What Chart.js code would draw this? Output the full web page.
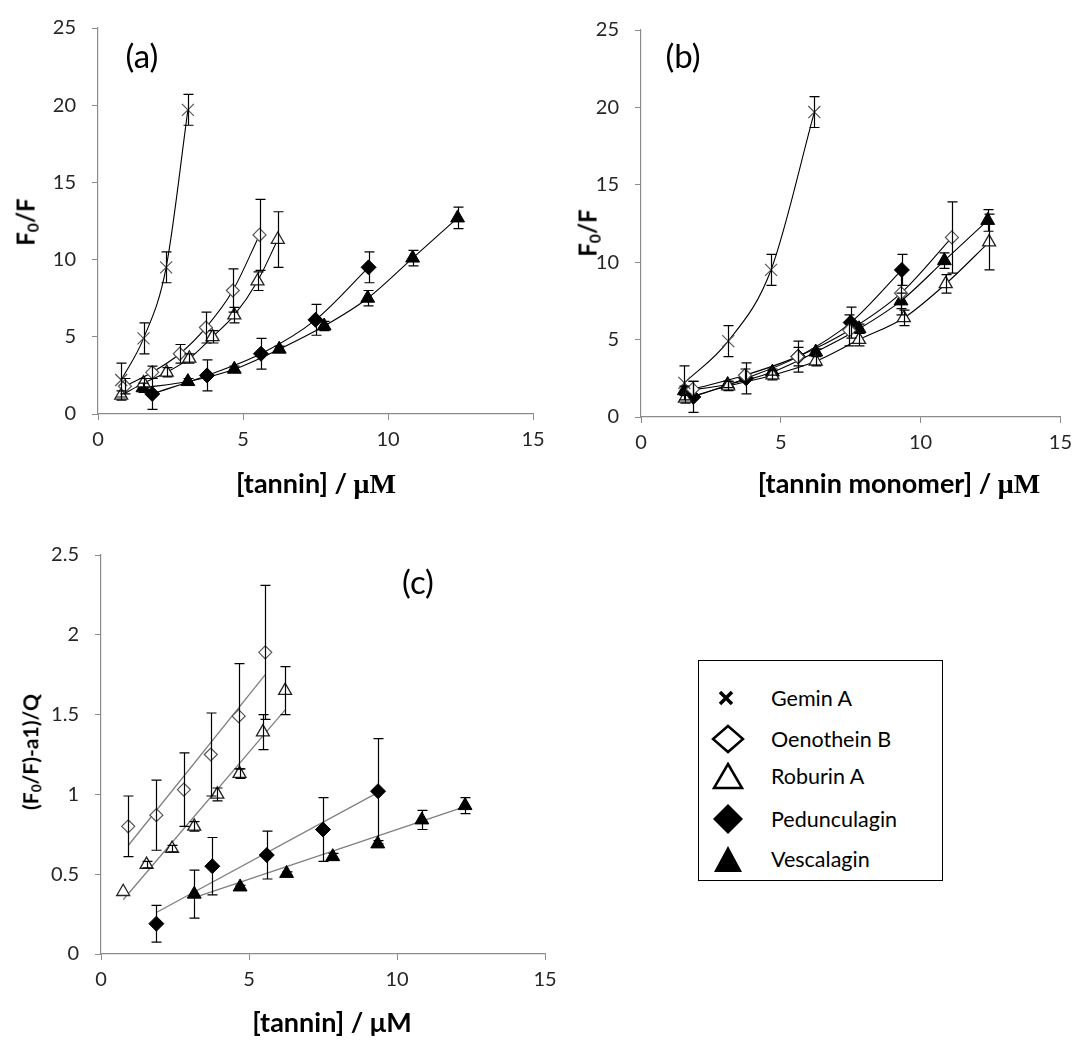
<!DOCTYPE html>
<html lang="en">
<head>
<meta charset="UTF-8">
<title>Tannin quenching</title>
<script src="https://cdn.jsdelivr.net/npm/chart.js@4.4.1/dist/chart.umd.min.js"></script>
<style>
  * { margin: 0; padding: 0; }
  body { width: 1080px; height: 1040px; background: #fff; position: relative; overflow: hidden;
         font-family: Lato, "Open Sans", sans-serif; }
  .box { position: absolute; }
  .lbl { position: absolute; white-space: nowrap; color: #000; }
  .ytitle { font-weight: bold; font-size: 24px; transform: translate(-50%, -50%) rotate(-90deg); }
  .xtitle { font-weight: bold; font-size: 27px; transform: translate(-50%, -50%); }
  .mu { font-family: "Liberation Serif", serif; font-weight: bold; font-size: 28px; }
  .panel { font-size: 33px; transform: translate(-50%, -50%); }
  sub { font-size: 65%; vertical-align: -0.25em; }
  #legend { position: absolute; left: 698px; top: 660px; width: 243px; height: 219px; border: 1.5px solid #000; }
  .leg { position: absolute; left: 72px; font-size: 21.5px; transform: translateY(-50%); white-space: nowrap; }
  .mk { position: absolute; left: 12px; transform: translateY(-50%); }
</style>
</head>
<body>

<div class="box" style="left:0; top:0; width:560px; height:470px"><canvas id="chartA"></canvas></div>
<div class="box" style="left:560px; top:0; width:520px; height:470px"><canvas id="chartB"></canvas></div>
<div class="box" style="left:0; top:520px; width:600px; height:520px"><canvas id="chartC"></canvas></div>

<div class="lbl panel" style="left:142px; top:55px">(a)</div>
<div class="lbl panel" style="left:683px; top:55px">(b)</div>
<div class="lbl panel" style="left:418px; top:581px">(c)</div>

<div class="lbl ytitle" style="left:26px; top:222px">F<sub>0</sub>/F</div>
<div class="lbl ytitle" style="left:588px; top:233px">F<sub>0</sub>/F</div>
<div class="lbl ytitle" style="left:31px; top:752px; font-size:21px">(F<sub>0</sub>/F)-a1)/Q</div>

<div class="lbl xtitle" style="left:316px; top:483px">[tannin] / <span class="mu">μM</span></div>
<div class="lbl xtitle" style="left:899px; top:483px">[tannin monomer] / <span class="mu">μM</span></div>
<div class="lbl xtitle" style="left:332px; top:1021px">[tannin] / μM</div>

<div id="legend">
  <svg class="mk" style="top:37px" width="30" height="20"><path d="M9 4 L21 16 M21 4 L9 16" stroke="#000" stroke-width="3.5"/></svg>
  <div class="leg" style="top:37px">Gemin A</div>
  <svg class="mk" style="top:78px" width="34" height="30"><path d="M17 2 L32 15 L17 28 L2 15 Z" fill="#fff" stroke="#000" stroke-width="2.5"/></svg>
  <div class="leg" style="top:78px">Oenothein B</div>
  <svg class="mk" style="top:115px" width="34" height="30"><path d="M17 3 L31 27 L3 27 Z" fill="#fff" stroke="#000" stroke-width="2.5"/></svg>
  <div class="leg" style="top:115px">Roburin A</div>
  <svg class="mk" style="top:158px" width="34" height="32"><path d="M17 1 L32 16 L17 31 L2 16 Z" fill="#000"/></svg>
  <div class="leg" style="top:158px">Pedunculagin</div>
  <svg class="mk" style="top:198px" width="34" height="30"><path d="M17 2 L31 28 L3 28 Z" fill="#000"/></svg>
  <div class="leg" style="top:198px">Vescalagin</div>
</div>

<script>
// ---- panel (a): x = [tannin] / uM
var geminX = [0.80, 1.57, 2.35, 3.10];
var geminY = [2.2, 4.9, 9.5, 19.7];
var geminE = [1.1, 1.0, 1.0, 1.0];

var oenoX = [0.93, 1.87, 2.82, 3.72, 4.65, 5.57];
var oenoY = [1.8, 2.7, 3.9, 5.6, 8.0, 11.6];
var oenoE = [0.5, 0.4, 0.6, 1.0, 1.4, 2.3];

var robX = [0.80, 1.57, 2.37, 3.15, 3.95, 4.70, 5.50, 6.20];
var robY = [1.2, 2.0, 2.7, 3.6, 5.0, 6.4, 8.6, 11.3];
var robE = [0.3, 0.3, 0.3, 0.3, 0.4, 0.5, 0.6, 1.8];

var pedX = [1.87, 3.76, 5.62, 7.50, 9.33];
var pedY = [1.3, 2.5, 3.9, 6.1, 9.5];
var pedE = [1.0, 1.0, 1.0, 1.0, 1.0];

var vesX = [1.55, 3.10, 4.70, 6.25, 7.80, 9.30, 10.85, 12.40];
var vesY = [1.7, 2.1, 2.9, 4.2, 5.7, 7.5, 10.1, 12.7];
var vesE = [0.3, 0.2, 0.2, 0.2, 0.3, 0.5, 0.5, 0.7];

// ---- panel (b): x = [tannin monomer] / uM (dimers move right)
var geminXb = [1.55, 3.12, 4.65, 6.20];
var oenoXb = [1.85, 3.72, 5.60, 7.45, 9.30, 11.12];
var robXb = [1.57, 3.12, 4.70, 6.25, 7.80, 9.40, 10.90, 12.45];

// ---- panel (c): ((F0/F)-a1)/Q against [tannin]
var oenoCX = [0.92, 1.87, 2.80, 3.71, 4.65, 5.55];
var oenoCY = [0.80, 0.87, 1.03, 1.25, 1.49, 1.89];
var oenoCE = [0.19, 0.22, 0.23, 0.26, 0.33, 0.42];
var oenoFitX = [0.92, 5.55], oenoFitY = [0.68, 1.75];

var robCX = [0.75, 1.54, 2.40, 3.15, 3.93, 4.68, 5.47, 6.22];
var robCY = [0.39, 0.56, 0.66, 0.80, 1.00, 1.13, 1.39, 1.65];
var robCE = [0, 0.02, 0.02, 0.03, 0.04, 0.03, 0.11, 0.15];
var robFitX = [0.75, 6.22], robFitY = [0.34, 1.53];

var pedCX = [1.87, 3.76, 5.60, 7.50, 9.36];
var pedCY = [0.19, 0.55, 0.62, 0.78, 1.02];
var pedCE = [0.115, 0.18, 0.15, 0.20, 0.33];
var pedFitX = [1.87, 9.33], pedFitY = [0.26, 1.01];

var vesCX = [3.15, 4.70, 6.27, 7.83, 9.35, 10.84, 12.30];
var vesCY = [0.375, 0.42, 0.505, 0.61, 0.69, 0.84, 0.93];
var vesCE = [0.15, 0.01, 0.01, 0.02, 0.02, 0.06, 0.05];
var vesFitX = [3.10, 12.40], vesFitY = [0.35, 0.93];

var xTicks = [0, 5, 10, 15];

function pts(xs, ys) {
    var out = [];
    for (var i = 0; i < xs.length; i++) out.push({x: xs[i], y: ys[i]});
    return out;
}

// marker looks, shared by all three panels
var looks = {
    gemin: {pointStyle: 'crossRot', pointRadius: 8.5, pointBorderColor: '#555', pointBackgroundColor: '#fff', pointBorderWidth: 1.2},
    oeno:  {pointStyle: 'rectRot', pointRadius: 6.5, pointBorderColor: '#555', pointBackgroundColor: '#fff', pointBorderWidth: 1.2},
    rob:   {pointStyle: 'triangle', pointRadius: 7.5, pointBorderColor: '#222', pointBackgroundColor: '#fff', pointBorderWidth: 1.3},
    ped:   {pointStyle: 'rectRot', pointRadius: 7.5, pointBorderColor: '#000', pointBackgroundColor: '#000', pointBorderWidth: 1},
    ves:   {pointStyle: 'triangle', pointRadius: 8, pointBorderColor: '#000', pointBackgroundColor: '#000', pointBorderWidth: 1}
};

function series(label, xs, ys, errs, look, curve) {
    var ds = {label: label, data: pts(xs, ys), err: errs, showLine: curve,
              borderColor: '#000', borderWidth: 1.1, tension: 0.4, cubicInterpolationMode: 'monotone'};
    for (var k in look) ds[k] = look[k];
    return ds;
}

function fitLine(xs, ys) {
    return {label: 'fit', data: pts(xs, ys), showLine: true, pointRadius: 0,
            borderColor: '#7f7f7f', borderWidth: 1.3, order: 5};
}

var errorBars = {
    id: 'errorBars',
    afterDatasetsDraw: function (chart) {
        var ctx = chart.ctx, xs = chart.scales.x, ys = chart.scales.y;
        ctx.save();
        ctx.strokeStyle = '#000';
        ctx.lineWidth = 1.2;
        chart.data.datasets.forEach(function (ds) {
            if (!ds.err) return;
            ds.data.forEach(function (p, i) {
                var e = ds.err[i];
                if (!e) return;
                var x = Math.round(xs.getPixelForValue(p.x)) + 0.5;
                var y1 = ys.getPixelForValue(p.y + e), y2 = ys.getPixelForValue(p.y - e);
                ctx.beginPath();
                ctx.moveTo(x, y1); ctx.lineTo(x, y2);
                ctx.moveTo(x - 5, y1); ctx.lineTo(x + 5, y1);
                ctx.moveTo(x - 5, y2); ctx.lineTo(x + 5, y2);
                ctx.stroke();
            });
        });
        ctx.restore();
    }
};

function makeChart(id, datasets, yMax, yStep, pad) {
    var axisGrey = '#8c8c8c';
    new Chart(document.getElementById(id), {
        type: 'scatter',
        data: {datasets: datasets},
        plugins: [errorBars],
        options: {
            responsive: true,
            maintainAspectRatio: false,
            animation: false,
            layout: {padding: pad},
            plugins: {legend: {display: false}, tooltip: {enabled: false}},
            scales: {
                x: {
                    type: 'linear', min: 0, max: 15,
                    afterBuildTicks: function (s) { s.ticks = xTicks.map(function (v) { return {value: v}; }); },
                    afterFit: function (s) { s.height = 40; },
                    grid: {display: true, drawOnChartArea: false, drawTicks: true, tickLength: 6, color: axisGrey},
                    border: {color: axisGrey, width: 1.2},
                    ticks: {color: '#262626', font: {family: 'Lato', size: 20}, padding: 8, maxRotation: 0}
                },
                y: {
                    type: 'linear', min: 0, max: yMax,
                    afterFit: function (s) { s.width = 60; },
                    grid: {display: true, drawOnChartArea: false, drawTicks: true, tickLength: 6, color: axisGrey},
                    border: {color: axisGrey, width: 1.2},
                    ticks: {stepSize: yStep, color: '#262626', font: {family: 'Lato', size: 20}, padding: 16,
                            callback: function (v) { return String(+v.toFixed(1)); }}
                }
            }
        }
    });
}

makeChart('chartA', [
    series('Gemin A', geminX, geminY, geminE, looks.gemin, true),
    series('Oenothein B', oenoX, oenoY, oenoE, looks.oeno, true),
    series('Roburin A', robX, robY, robE, looks.rob, true),
    series('Pedunculagin', pedX, pedY, pedE, looks.ped, true),
    series('Vescalagin', vesX, vesY, vesE, looks.ves, true)
], 25, 5, {left: 38, right: 27, top: 22, bottom: 16});

makeChart('chartB', [
    series('Gemin A', geminXb, geminY, geminE, looks.gemin, true),
    series('Oenothein B', oenoXb, oenoY, oenoE, looks.oeno, true),
    series('Roburin A', robXb, robY, robE, looks.rob, true),
    series('Pedunculagin', pedX, pedY, pedE, looks.ped, true),
    series('Vescalagin', vesX, vesY, vesE, looks.ves, true)
], 25, 5, {left: 21, right: 17, top: 30, bottom: 13});

makeChart('chartC', [
    series('Oenothein B', oenoCX, oenoCY, oenoCE, looks.oeno, false),
    series('Roburin A', robCX, robCY, robCE, looks.rob, false),
    series('Pedunculagin', pedCX, pedCY, pedCE, looks.ped, false),
    series('Vescalagin', vesCX, vesCY, vesCE, looks.ves, false),
    fitLine(oenoFitX, oenoFitY),
    fitLine(robFitX, robFitY),
    fitLine(pedFitX, pedFitY),
    fitLine(vesFitX, vesFitY)
], 2.5, 0.5, {left: 41, right: 55, top: 35, bottom: 46});
</script>
</body>
</html>
